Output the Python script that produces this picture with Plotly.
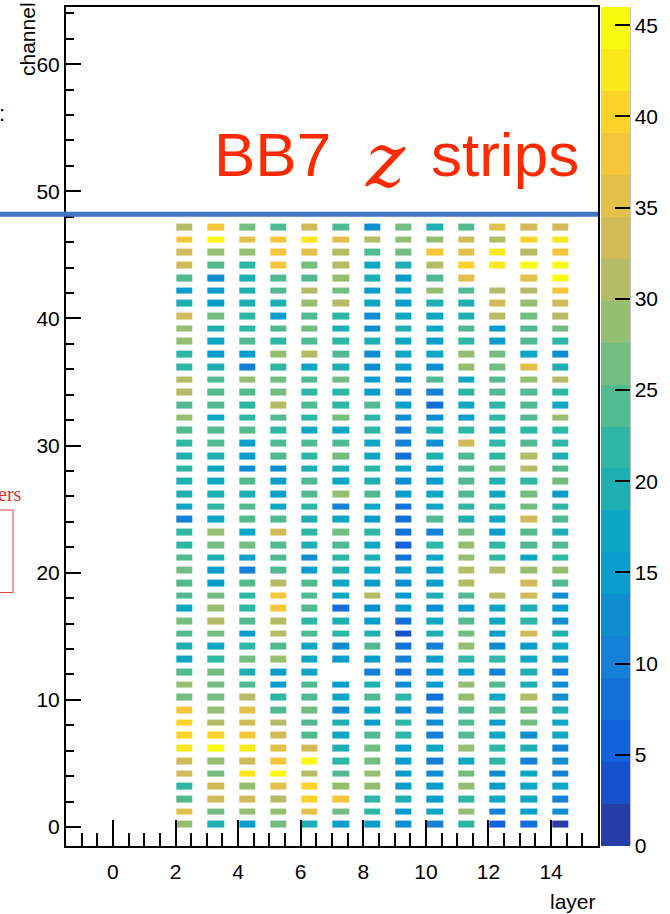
import plotly.graph_objects as go

# ---------------- data ----------------
layers = list(range(2, 15))          # layer numbers (x)
channels = list(range(48))           # channel numbers (y)

# counts per layer, channel 0 .. 47  (None = empty bin)
layer_2 = [29,36,24,22,33,33,42,40,40,38,26,29,24,17,19,24,26,17,24,24,26,24,22,22,10,17,19,19,22,19,22,24,29,24,31,31,22,22,29,29,33,19,15,24,33,33,38,31]
layer_3 = [19,26,33,33,26,29,45,40,31,29,26,26,26,22,17,26,31,29,26,15,15,19,26,29,17,22,19,17,17,19,24,24,17,24,24,24,19,15,17,19,26,15,15,12,24,29,45,38]
layer_4 = [15,29,33,29,42,33,42,38,33,36,31,24,19,26,22,15,24,22,22,24,10,15,26,17,24,24,19,24,12,15,15,24,22,22,24,29,10,15,24,22,22,19,19,19,22,29,36,26]
layer_5 = [26,29,31,36,45,38,36,33,31,24,22,15,15,29,24,31,31,38,38,31,24,24,24,33,24,17,15,15,12,24,24,22,24,31,26,26,22,29,22,24,15,19,24,24,38,38,38,24]
layer_6 = [19,36,40,40,31,45,33,24,24,26,24,24,17,17,17,24,22,24,24,24,15,12,19,22,19,22,24,24,19,22,24,17,22,24,22,24,17,31,24,26,24,29,31,24,26,36,42,33]
layer_7 = [15,26,38,29,24,22,19,17,19,12,17,15,None,15,12,22,19,8,17,17,19,22,24,26,17,10,29,17,19,26,24,17,26,22,22,26,19,24,22,19,22,31,26,29,31,31,36,24]
layer_8 = [15,22,22,29,29,26,26,24,15,17,24,19,10,15,24,19,15,12,31,15,17,19,17,22,15,17,24,19,22,17,17,22,22,24,15,15,12,12,19,12,12,17,15,19,17,24,31,12]
layer_9 = [12,15,19,15,15,15,15,22,22,12,22,12,8,10,8,3,8,15,15,12,15,8,5,8,8,8,15,12,17,8,10,10,12,15,10,12,15,17,17,19,17,15,17,15,19,26,29,26]
layer_10 = [10,17,15,15,12,10,17,10,12,10,8,15,12,15,10,19,17,12,19,15,15,17,22,10,24,17,17,15,15,19,12,19,12,8,10,24,12,17,15,17,17,19,29,24,31,38,29,19]
layer_11 = [22,29,22,29,26,17,29,24,24,24,29,29,15,22,29,26,24,15,24,31,31,29,29,26,19,22,24,24,24,24,33,22,15,17,22,17,29,29,22,24,19,19,24,36,40,36,33,24]
layer_12 = [5,10,17,15,12,22,22,17,15,24,17,24,10,22,12,15,17,17,31,None,31,22,22,15,17,22,17,19,26,22,22,19,22,22,24,24,26,26,15,15,31,33,31,None,42,42,31,36]
layer_13 = [8,15,17,17,17,10,19,12,26,26,31,19,19,17,15,33,22,19,33,33,29,17,24,24,33,26,26,22,31,31,24,22,24,24,24,29,36,17,24,24,26,29,31,36,45,31,40,33]
layer_14 = [1,12,10,17,10,12,10,17,17,19,12,12,10,15,17,19,12,15,12,24,29,22,24,19,24,22,15,26,24,19,22,22,29,17,22,31,19,12,22,26,31,33,38,45,45,38,42,33]

by_layer = [layer_2, layer_3, layer_4, layer_5, layer_6, layer_7, layer_8,
            layer_9, layer_10, layer_11, layer_12, layer_13, layer_14]

x_ticks = [0, 2, 4, 6, 8, 10, 12, 14]
y_ticks = [0, 10, 20, 30, 40, 50, 60]
z_ticks = [0, 5, 10, 15, 20, 25, 30, 35, 40, 45]
z_max = 46
line_level = 48

# ---------------- ROOT kBird palette, 20 contour bands ----------------
st = [0.0, 0.125, 0.25, 0.375, 0.5, 0.625, 0.75, 0.875, 1.0]
rr = [0.2082, 0.0592, 0.0780, 0.0232, 0.1802, 0.5301, 0.8186, 0.9956, 0.9764]
gg = [0.1664, 0.3599, 0.5041, 0.6419, 0.7178, 0.7492, 0.7328, 0.7862, 0.9832]
bb = [0.5293, 0.8684, 0.8385, 0.7914, 0.6425, 0.4662, 0.3499, 0.1968, 0.0539]


def bird(f):
    for k in range(len(st) - 1):
        if f <= st[k + 1] + 1e-12:
            t = (f - st[k]) / (st[k + 1] - st[k])
            r = rr[k] + (rr[k + 1] - rr[k]) * t
            g = gg[k] + (gg[k + 1] - gg[k]) * t
            b = bb[k] + (bb[k + 1] - bb[k]) * t
            return "rgb(%d,%d,%d)" % (round(r * 255), round(g * 255), round(b * 255))
    return "rgb(249,251,14)"


nlev = 20
band_cols = []
for i in range(nlev):
    idx = min(int((i + 0.99) * 255 / nlev), 254)
    band_cols.append(bird(idx / 254))
cscale = []
for i, c in enumerate(band_cols):
    cscale.append([i / nlev, c])
    cscale.append([(i + 1) / nlev, c])

# ---------------- figure ----------------
W, H = 670, 914
L, R, T, B = 66, 72, 7, 68
pw = W - L - R
ph = H - T - B

z = [[by_layer[j][c] for j in range(len(layers))] for c in channels]

FONT = "Liberation Sans"
RED = "#ff2a00"


def px_x(p):
    return (p - L) / pw


def px_y(p):
    return (H - B - p) / ph


fig = go.Figure()
fig.add_trace(go.Heatmap(
    x=[v + 0.3 for v in layers],
    y=[v + 0.2 for v in channels],
    z=z,
    zmin=0, zmax=z_max,
    colorscale=cscale,
    xgap=15, ygap=6,
    hoverongaps=False,
    colorbar=dict(
        x=px_x(600.5), xanchor="left", xpad=0, ypad=0,
        y=0.5, yanchor="middle", len=1, lenmode="fraction",
        thickness=29, outlinewidth=0,
        tickmode="array", tickvals=z_ticks,
        ticks="inside", ticklen=15, tickwidth=1.5, tickcolor="black",
        tickfont=dict(family=FONT, size=21, color="black"),
    ),
))

fig.update_xaxes(
    range=[-1.5, 15.5], tickmode="array", tickvals=x_ticks,
    ticks="inside", ticklen=26, tickwidth=1.5, tickcolor="black",
    minor=dict(dtick=0.5, tick0=0, ticks="inside", ticklen=13, tickwidth=1.5, tickcolor="black"),
    showline=True, mirror=True, linecolor="black", linewidth=2,
    showgrid=False, zeroline=False,
    tickfont=dict(family=FONT, size=21, color="black"),
    ticklabelstandoff=6,
)
fig.update_yaxes(
    range=[-1.5, 64.5], tickmode="array", tickvals=y_ticks,
    ticks="inside", ticklen=15, tickwidth=1.5, tickcolor="black",
    minor=dict(dtick=2, tick0=0, ticks="inside", ticklen=8, tickwidth=1.5, tickcolor="black"),
    showline=True, mirror=True, linecolor="black", linewidth=2,
    showgrid=False, zeroline=False,
    tickfont=dict(family=FONT, size=21, color="black"),
    ticklabelstandoff=0,
)

shapes = [
    # horizontal marker line
    dict(type="line", xref="paper", yref="y", x0=px_x(-5), x1=1.0,
         y0=line_level + 0.2, y1=line_level + 0.2, line=dict(color="#4472c4", width=5)),
    # colour bar axis line
    dict(type="line", xref="paper", yref="paper", x0=px_x(629.5), x1=px_x(629.5),
         y0=0, y1=1, line=dict(color="black", width=1.5)),
    # cropped red box at the left edge
    dict(type="rect", xref="paper", yref="paper", x0=px_x(-20), x1=px_x(13),
         y0=px_y(592.5), y1=px_y(510), line=dict(color="#e8403c", width=1)),
]

annotations = [
    dict(text="BB7", xref="paper", yref="paper", x=px_x(212), y=px_y(155),
         xanchor="left", yanchor="middle", showarrow=False,
         font=dict(family=FONT, size=62, color=RED)),
    dict(text="<i>z</i>", xref="paper", yref="paper", x=px_x(385), y=px_y(160),
         xanchor="center", yanchor="middle", showarrow=False,
         font=dict(family="DejaVu Serif", size=74, color=RED)),
    dict(text="strips", xref="paper", yref="paper", x=px_x(581), y=px_y(155),
         xanchor="right", yanchor="middle", showarrow=False,
         font=dict(family=FONT, size=62, color=RED)),
    dict(text="channel", textangle=-90, xref="paper", yref="paper",
         x=px_x(28), y=px_y(0), xanchor="center", yanchor="top",
         showarrow=False, font=dict(family=FONT, size=21, color="black")),
    dict(text="layer", xref="paper", yref="paper",
         x=px_x(598), y=px_y(901),
         xanchor="right", yanchor="middle", showarrow=False,
         font=dict(family=FONT, size=21, color="black")),
    dict(text=":", xref="paper", yref="paper",
         x=px_x(2), y=px_y(113),
         xanchor="center", yanchor="middle", showarrow=False,
         font=dict(family=FONT, size=22, color="black")),
    dict(text="ers", xref="paper", yref="paper",
         x=px_x(24), y=px_y(494),
         xanchor="right", yanchor="middle", showarrow=False,
         font=dict(family="Liberation Serif", size=20, color="#e8302b")),
]

fig.update_layout(
    width=W, height=H,
    margin=dict(l=L, r=R, t=T, b=B, pad=0, autoexpand=False),
    paper_bgcolor="white", plot_bgcolor="white",
    shapes=shapes, annotations=annotations,
    showlegend=False,
)

fig.write_html("out.html",
               config={"displayModeBar": False},
               post_script="document.body.style.margin='0';document.body.style.padding='0';")
